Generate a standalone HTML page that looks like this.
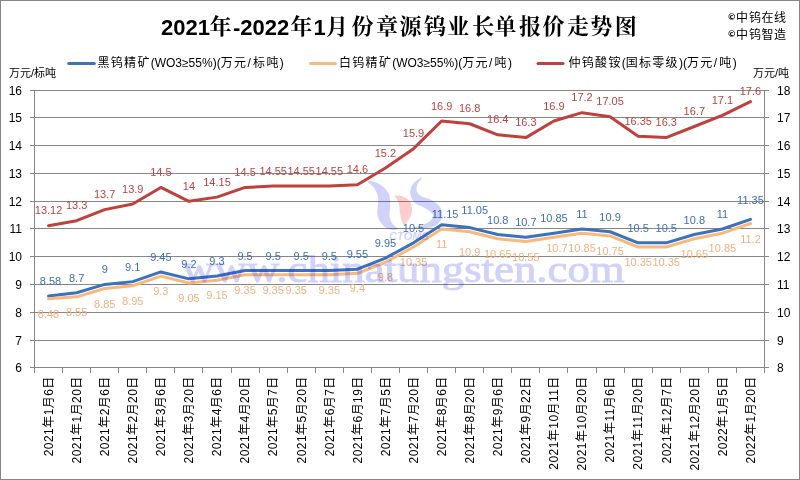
<!DOCTYPE html>
<html><head><meta charset="utf-8"><title>2021年-2022年1月份章源钨业长单报价走势图</title><style>
html,body{margin:0;padding:0;background:#fff;overflow:hidden;}
svg{display:block;}
text{font-family:"Liberation Sans","Noto Sans CJK SC",sans-serif;}
.t{font-family:"Liberation Sans","Noto Serif CJK SC",serif;font-weight:bold;}
.wm{font-family:"Liberation Serif",serif;}
.wm2{font-family:"Liberation Sans",sans-serif;font-weight:bold;font-style:italic;}
.cp{font-family:"DejaVu Sans",sans-serif;font-weight:bold;}
.c{font-family:"Noto Serif CJK SC",serif;font-weight:bold;font-size:22px;}
</style></head><body>
<svg width="800" height="480" viewBox="0 0 800 480">
<rect x="0" y="0" width="800" height="480" fill="#fff"/>
<rect x="0.5" y="0.5" width="799" height="479" fill="none" stroke="#868686" stroke-width="1"/>
<line x1="30" y1="90.5" x2="769" y2="90.5" stroke="#868686" stroke-width="1"/>
<line x1="30" y1="117.5" x2="769" y2="117.5" stroke="#868686" stroke-width="1"/>
<line x1="30" y1="145.5" x2="769" y2="145.5" stroke="#868686" stroke-width="1"/>
<line x1="30" y1="173.5" x2="769" y2="173.5" stroke="#868686" stroke-width="1"/>
<line x1="30" y1="201.5" x2="769" y2="201.5" stroke="#868686" stroke-width="1"/>
<line x1="30" y1="228.5" x2="769" y2="228.5" stroke="#868686" stroke-width="1"/>
<line x1="30" y1="256.5" x2="769" y2="256.5" stroke="#868686" stroke-width="1"/>
<line x1="30" y1="284.5" x2="769" y2="284.5" stroke="#868686" stroke-width="1"/>
<line x1="30" y1="312.5" x2="769" y2="312.5" stroke="#868686" stroke-width="1"/>
<line x1="30" y1="340.5" x2="769" y2="340.5" stroke="#868686" stroke-width="1"/>
<line x1="30" y1="367.5" x2="769" y2="367.5" stroke="#868686" stroke-width="1"/>
<line x1="34.5" y1="90" x2="34.5" y2="373" stroke="#868686" stroke-width="1"/>
<line x1="764.5" y1="90" x2="764.5" y2="373" stroke="#868686" stroke-width="1"/>
<line x1="62.5" y1="368" x2="62.5" y2="373" stroke="#868686" stroke-width="1"/>
<line x1="90.5" y1="368" x2="90.5" y2="373" stroke="#868686" stroke-width="1"/>
<line x1="118.5" y1="368" x2="118.5" y2="373" stroke="#868686" stroke-width="1"/>
<line x1="146.5" y1="368" x2="146.5" y2="373" stroke="#868686" stroke-width="1"/>
<line x1="174.5" y1="368" x2="174.5" y2="373" stroke="#868686" stroke-width="1"/>
<line x1="202.5" y1="368" x2="202.5" y2="373" stroke="#868686" stroke-width="1"/>
<line x1="231.5" y1="368" x2="231.5" y2="373" stroke="#868686" stroke-width="1"/>
<line x1="259.5" y1="368" x2="259.5" y2="373" stroke="#868686" stroke-width="1"/>
<line x1="287.5" y1="368" x2="287.5" y2="373" stroke="#868686" stroke-width="1"/>
<line x1="315.5" y1="368" x2="315.5" y2="373" stroke="#868686" stroke-width="1"/>
<line x1="343.5" y1="368" x2="343.5" y2="373" stroke="#868686" stroke-width="1"/>
<line x1="371.5" y1="368" x2="371.5" y2="373" stroke="#868686" stroke-width="1"/>
<line x1="399.5" y1="368" x2="399.5" y2="373" stroke="#868686" stroke-width="1"/>
<line x1="427.5" y1="368" x2="427.5" y2="373" stroke="#868686" stroke-width="1"/>
<line x1="455.5" y1="368" x2="455.5" y2="373" stroke="#868686" stroke-width="1"/>
<line x1="483.5" y1="368" x2="483.5" y2="373" stroke="#868686" stroke-width="1"/>
<line x1="511.5" y1="368" x2="511.5" y2="373" stroke="#868686" stroke-width="1"/>
<line x1="539.5" y1="368" x2="539.5" y2="373" stroke="#868686" stroke-width="1"/>
<line x1="567.5" y1="368" x2="567.5" y2="373" stroke="#868686" stroke-width="1"/>
<line x1="596.5" y1="368" x2="596.5" y2="373" stroke="#868686" stroke-width="1"/>
<line x1="624.5" y1="368" x2="624.5" y2="373" stroke="#868686" stroke-width="1"/>
<line x1="652.5" y1="368" x2="652.5" y2="373" stroke="#868686" stroke-width="1"/>
<line x1="680.5" y1="368" x2="680.5" y2="373" stroke="#868686" stroke-width="1"/>
<line x1="708.5" y1="368" x2="708.5" y2="373" stroke="#868686" stroke-width="1"/>
<line x1="736.5" y1="368" x2="736.5" y2="373" stroke="#868686" stroke-width="1"/>
<text x="22" y="94.8" font-size="12" text-anchor="end" fill="#000">16</text>
<text x="777" y="94.8" font-size="12" text-anchor="start" fill="#000">18</text>
<text x="22" y="121.8" font-size="12" text-anchor="end" fill="#000">15</text>
<text x="777" y="121.8" font-size="12" text-anchor="start" fill="#000">17</text>
<text x="22" y="149.8" font-size="12" text-anchor="end" fill="#000">14</text>
<text x="777" y="149.8" font-size="12" text-anchor="start" fill="#000">16</text>
<text x="22" y="177.8" font-size="12" text-anchor="end" fill="#000">13</text>
<text x="777" y="177.8" font-size="12" text-anchor="start" fill="#000">15</text>
<text x="22" y="205.8" font-size="12" text-anchor="end" fill="#000">12</text>
<text x="777" y="205.8" font-size="12" text-anchor="start" fill="#000">14</text>
<text x="22" y="232.8" font-size="12" text-anchor="end" fill="#000">11</text>
<text x="777" y="232.8" font-size="12" text-anchor="start" fill="#000">13</text>
<text x="22" y="260.8" font-size="12" text-anchor="end" fill="#000">10</text>
<text x="777" y="260.8" font-size="12" text-anchor="start" fill="#000">12</text>
<text x="22" y="288.8" font-size="12" text-anchor="end" fill="#000">9</text>
<text x="777" y="288.8" font-size="12" text-anchor="start" fill="#000">11</text>
<text x="22" y="316.8" font-size="12" text-anchor="end" fill="#000">8</text>
<text x="777" y="316.8" font-size="12" text-anchor="start" fill="#000">10</text>
<text x="22" y="344.8" font-size="12" text-anchor="end" fill="#000">7</text>
<text x="777" y="344.8" font-size="12" text-anchor="start" fill="#000">9</text>
<text x="22" y="371.8" font-size="12" text-anchor="end" fill="#000">6</text>
<text x="777" y="371.8" font-size="12" text-anchor="start" fill="#000">8</text>
<text x="9" y="77" font-size="11" fill="#000">万元/标吨</text>
<text x="753" y="77" font-size="11" fill="#000">万元/吨</text>
<text transform="translate(48.54,376.2) rotate(-90)" x="0" y="4.3" font-size="12" letter-spacing="0.45" text-anchor="end" fill="#000">2021年1月6日</text>
<text transform="translate(76.62,376.2) rotate(-90)" x="0" y="4.3" font-size="12" letter-spacing="0.45" text-anchor="end" fill="#000">2021年1月20日</text>
<text transform="translate(104.69,376.2) rotate(-90)" x="0" y="4.3" font-size="12" letter-spacing="0.45" text-anchor="end" fill="#000">2021年2月6日</text>
<text transform="translate(132.77,376.2) rotate(-90)" x="0" y="4.3" font-size="12" letter-spacing="0.45" text-anchor="end" fill="#000">2021年2月20日</text>
<text transform="translate(160.85,376.2) rotate(-90)" x="0" y="4.3" font-size="12" letter-spacing="0.45" text-anchor="end" fill="#000">2021年3月6日</text>
<text transform="translate(188.92,376.2) rotate(-90)" x="0" y="4.3" font-size="12" letter-spacing="0.45" text-anchor="end" fill="#000">2021年3月20日</text>
<text transform="translate(217.00,376.2) rotate(-90)" x="0" y="4.3" font-size="12" letter-spacing="0.45" text-anchor="end" fill="#000">2021年4月6日</text>
<text transform="translate(245.08,376.2) rotate(-90)" x="0" y="4.3" font-size="12" letter-spacing="0.45" text-anchor="end" fill="#000">2021年4月20日</text>
<text transform="translate(273.15,376.2) rotate(-90)" x="0" y="4.3" font-size="12" letter-spacing="0.45" text-anchor="end" fill="#000">2021年5月7日</text>
<text transform="translate(301.23,376.2) rotate(-90)" x="0" y="4.3" font-size="12" letter-spacing="0.45" text-anchor="end" fill="#000">2021年5月20日</text>
<text transform="translate(329.31,376.2) rotate(-90)" x="0" y="4.3" font-size="12" letter-spacing="0.45" text-anchor="end" fill="#000">2021年6月7日</text>
<text transform="translate(357.38,376.2) rotate(-90)" x="0" y="4.3" font-size="12" letter-spacing="0.45" text-anchor="end" fill="#000">2021年6月19日</text>
<text transform="translate(385.46,376.2) rotate(-90)" x="0" y="4.3" font-size="12" letter-spacing="0.45" text-anchor="end" fill="#000">2021年7月5日</text>
<text transform="translate(413.54,376.2) rotate(-90)" x="0" y="4.3" font-size="12" letter-spacing="0.45" text-anchor="end" fill="#000">2021年7月20日</text>
<text transform="translate(441.62,376.2) rotate(-90)" x="0" y="4.3" font-size="12" letter-spacing="0.45" text-anchor="end" fill="#000">2021年8月6日</text>
<text transform="translate(469.69,376.2) rotate(-90)" x="0" y="4.3" font-size="12" letter-spacing="0.45" text-anchor="end" fill="#000">2021年8月20日</text>
<text transform="translate(497.77,376.2) rotate(-90)" x="0" y="4.3" font-size="12" letter-spacing="0.45" text-anchor="end" fill="#000">2021年9月6日</text>
<text transform="translate(525.85,376.2) rotate(-90)" x="0" y="4.3" font-size="12" letter-spacing="0.45" text-anchor="end" fill="#000">2021年9月22日</text>
<text transform="translate(553.92,376.2) rotate(-90)" x="0" y="4.3" font-size="12" letter-spacing="0.45" text-anchor="end" fill="#000">2021年10月11日</text>
<text transform="translate(582.00,376.2) rotate(-90)" x="0" y="4.3" font-size="12" letter-spacing="0.45" text-anchor="end" fill="#000">2021年10月20日</text>
<text transform="translate(610.08,376.2) rotate(-90)" x="0" y="4.3" font-size="12" letter-spacing="0.45" text-anchor="end" fill="#000">2021年11月6日</text>
<text transform="translate(638.15,376.2) rotate(-90)" x="0" y="4.3" font-size="12" letter-spacing="0.45" text-anchor="end" fill="#000">2021年11月20日</text>
<text transform="translate(666.23,376.2) rotate(-90)" x="0" y="4.3" font-size="12" letter-spacing="0.45" text-anchor="end" fill="#000">2021年12月7日</text>
<text transform="translate(694.31,376.2) rotate(-90)" x="0" y="4.3" font-size="12" letter-spacing="0.45" text-anchor="end" fill="#000">2021年12月20日</text>
<text transform="translate(722.38,376.2) rotate(-90)" x="0" y="4.3" font-size="12" letter-spacing="0.45" text-anchor="end" fill="#000">2022年1月5日</text>
<text transform="translate(750.46,376.2) rotate(-90)" x="0" y="4.3" font-size="12" letter-spacing="0.45" text-anchor="end" fill="#000">2022年1月20日</text>
<polyline points="48.54,296.03 76.62,292.71 104.69,284.40 132.77,281.63 160.85,271.94 188.92,278.86 217.00,276.09 245.08,270.55 273.15,270.55 301.23,270.55 329.31,270.55 357.38,269.16 385.46,258.09 413.54,242.85 441.62,224.84 469.69,227.61 497.77,234.54 525.85,237.31 553.92,233.16 582.00,229.00 610.08,231.77 638.15,242.85 666.23,242.85 694.31,234.54 722.38,229.00 750.46,219.31" fill="none" stroke="#3B72BE" stroke-width="3" stroke-linejoin="round" stroke-linecap="round"/>
<polyline points="48.54,298.80 76.62,296.87 104.69,288.56 132.77,285.79 160.85,276.09 188.92,283.01 217.00,280.25 245.08,274.71 273.15,274.71 301.23,274.71 329.31,274.71 357.38,273.32 385.46,262.24 413.54,247.00 441.62,229.00 469.69,231.77 497.77,238.69 525.85,241.46 553.92,237.31 582.00,233.16 610.08,235.93 638.15,247.00 666.23,247.00 694.31,238.69 722.38,233.16 750.46,223.46" fill="none" stroke="#F7B97E" stroke-width="3" stroke-linejoin="round" stroke-linecap="round"/>
<polyline points="48.54,225.68 76.62,220.69 104.69,209.61 132.77,204.07 160.85,187.45 188.92,201.30 217.00,197.14 245.08,187.45 273.15,186.06 301.23,186.06 329.31,186.06 357.38,184.68 385.46,168.06 413.54,148.67 441.62,120.97 469.69,123.74 497.77,134.82 525.85,137.59 553.92,120.97 582.00,112.66 610.08,116.81 638.15,136.20 666.23,137.59 694.31,126.51 722.38,115.43 750.46,101.58" fill="none" stroke="#C0403B" stroke-width="3" stroke-linejoin="round" stroke-linecap="round"/>
<text x="50.54" y="285.0" font-size="11" text-anchor="middle" fill="#3F6FB3">8.58</text>
<text x="76.62" y="281.7" font-size="11" text-anchor="middle" fill="#3F6FB3">8.7</text>
<text x="104.69" y="273.4" font-size="11" text-anchor="middle" fill="#3F6FB3">9</text>
<text x="132.77" y="270.6" font-size="11" text-anchor="middle" fill="#3F6FB3">9.1</text>
<text x="160.85" y="260.9" font-size="11" text-anchor="middle" fill="#3F6FB3">9.45</text>
<text x="188.92" y="267.9" font-size="11" text-anchor="middle" fill="#3F6FB3">9.2</text>
<text x="217.00" y="265.1" font-size="11" text-anchor="middle" fill="#3F6FB3">9.3</text>
<text x="245.08" y="259.6" font-size="11" text-anchor="middle" fill="#3F6FB3">9.5</text>
<text x="273.15" y="259.6" font-size="11" text-anchor="middle" fill="#3F6FB3">9.5</text>
<text x="301.23" y="259.6" font-size="11" text-anchor="middle" fill="#3F6FB3">9.5</text>
<text x="329.31" y="259.6" font-size="11" text-anchor="middle" fill="#3F6FB3">9.5</text>
<text x="357.38" y="258.2" font-size="11" text-anchor="middle" fill="#3F6FB3">9.55</text>
<text x="385.46" y="247.1" font-size="11" text-anchor="middle" fill="#3F6FB3">9.95</text>
<text x="413.54" y="231.9" font-size="11" text-anchor="middle" fill="#3F6FB3">10.5</text>
<text x="445.12" y="217.8" font-size="11" text-anchor="middle" fill="#3F6FB3">11.15</text>
<text x="474.69" y="213.6" font-size="11" text-anchor="middle" fill="#3F6FB3">11.05</text>
<text x="497.77" y="223.5" font-size="11" text-anchor="middle" fill="#3F6FB3">10.8</text>
<text x="525.85" y="226.3" font-size="11" text-anchor="middle" fill="#3F6FB3">10.7</text>
<text x="553.92" y="222.2" font-size="11" text-anchor="middle" fill="#3F6FB3">10.85</text>
<text x="582.00" y="218.0" font-size="11" text-anchor="middle" fill="#3F6FB3">11</text>
<text x="610.08" y="220.8" font-size="11" text-anchor="middle" fill="#3F6FB3">10.9</text>
<text x="638.15" y="231.9" font-size="11" text-anchor="middle" fill="#3F6FB3">10.5</text>
<text x="666.23" y="231.9" font-size="11" text-anchor="middle" fill="#3F6FB3">10.5</text>
<text x="694.31" y="223.5" font-size="11" text-anchor="middle" fill="#3F6FB3">10.8</text>
<text x="722.38" y="218.0" font-size="11" text-anchor="middle" fill="#3F6FB3">11</text>
<text x="750.46" y="204.3" font-size="11" text-anchor="middle" fill="#3F6FB3">11.35</text>
<text x="48.54" y="317.8" font-size="11" text-anchor="middle" fill="#F0B07F">8.48</text>
<text x="76.62" y="315.9" font-size="11" text-anchor="middle" fill="#F0B07F">8.55</text>
<text x="104.69" y="307.6" font-size="11" text-anchor="middle" fill="#F0B07F">8.85</text>
<text x="132.77" y="304.8" font-size="11" text-anchor="middle" fill="#F0B07F">8.95</text>
<text x="160.85" y="295.1" font-size="11" text-anchor="middle" fill="#F0B07F">9.3</text>
<text x="188.92" y="302.0" font-size="11" text-anchor="middle" fill="#F0B07F">9.05</text>
<text x="217.00" y="299.2" font-size="11" text-anchor="middle" fill="#F0B07F">9.15</text>
<text x="245.08" y="293.7" font-size="11" text-anchor="middle" fill="#F0B07F">9.35</text>
<text x="273.15" y="293.7" font-size="11" text-anchor="middle" fill="#F0B07F">9.35</text>
<text x="296.23" y="293.7" font-size="11" text-anchor="middle" fill="#F0B07F">9.35</text>
<text x="329.31" y="293.7" font-size="11" text-anchor="middle" fill="#F0B07F">9.35</text>
<text x="357.38" y="292.3" font-size="11" text-anchor="middle" fill="#F0B07F">9.4</text>
<text x="385.46" y="281.2" font-size="11" text-anchor="middle" fill="#F0B07F">9.8</text>
<text x="413.54" y="266.0" font-size="11" text-anchor="middle" fill="#F0B07F">10.35</text>
<text x="441.62" y="248.0" font-size="11" text-anchor="middle" fill="#F0B07F">11</text>
<text x="469.69" y="256.4" font-size="11" text-anchor="middle" fill="#F0B07F">10.9</text>
<text x="497.77" y="257.7" font-size="11" text-anchor="middle" fill="#F0B07F">10.65</text>
<text x="525.85" y="260.5" font-size="11" text-anchor="middle" fill="#F0B07F">10.55</text>
<text x="556.92" y="252.3" font-size="11" text-anchor="middle" fill="#F0B07F">10.7</text>
<text x="582.00" y="252.2" font-size="11" text-anchor="middle" fill="#F0B07F">10.85</text>
<text x="610.08" y="254.9" font-size="11" text-anchor="middle" fill="#F0B07F">10.75</text>
<text x="638.15" y="266.0" font-size="11" text-anchor="middle" fill="#F0B07F">10.35</text>
<text x="666.23" y="266.0" font-size="11" text-anchor="middle" fill="#F0B07F">10.35</text>
<text x="694.31" y="257.7" font-size="11" text-anchor="middle" fill="#F0B07F">10.65</text>
<text x="722.38" y="252.2" font-size="11" text-anchor="middle" fill="#F0B07F">10.85</text>
<text x="750.46" y="242.5" font-size="11" text-anchor="middle" fill="#F0B07F">11.2</text>
<text x="48.54" y="214.2" font-size="11" text-anchor="middle" fill="#B84440">13.12</text>
<text x="76.62" y="209.2" font-size="11" text-anchor="middle" fill="#B84440">13.3</text>
<text x="104.69" y="198.1" font-size="11" text-anchor="middle" fill="#B84440">13.7</text>
<text x="132.77" y="192.6" font-size="11" text-anchor="middle" fill="#B84440">13.9</text>
<text x="160.85" y="176.0" font-size="11" text-anchor="middle" fill="#B84440">14.5</text>
<text x="188.92" y="189.8" font-size="11" text-anchor="middle" fill="#B84440">14</text>
<text x="217.00" y="185.6" font-size="11" text-anchor="middle" fill="#B84440">14.15</text>
<text x="245.08" y="176.0" font-size="11" text-anchor="middle" fill="#B84440">14.5</text>
<text x="273.15" y="174.6" font-size="11" text-anchor="middle" fill="#B84440">14.55</text>
<text x="301.23" y="174.6" font-size="11" text-anchor="middle" fill="#B84440">14.55</text>
<text x="329.31" y="174.6" font-size="11" text-anchor="middle" fill="#B84440">14.55</text>
<text x="357.38" y="173.2" font-size="11" text-anchor="middle" fill="#B84440">14.6</text>
<text x="385.46" y="156.6" font-size="11" text-anchor="middle" fill="#B84440">15.2</text>
<text x="413.54" y="137.2" font-size="11" text-anchor="middle" fill="#B84440">15.9</text>
<text x="441.62" y="109.5" font-size="11" text-anchor="middle" fill="#B84440">16.9</text>
<text x="469.69" y="112.2" font-size="11" text-anchor="middle" fill="#B84440">16.8</text>
<text x="497.77" y="123.3" font-size="11" text-anchor="middle" fill="#B84440">16.4</text>
<text x="525.85" y="126.1" font-size="11" text-anchor="middle" fill="#B84440">16.3</text>
<text x="553.92" y="109.5" font-size="11" text-anchor="middle" fill="#B84440">16.9</text>
<text x="582.00" y="101.2" font-size="11" text-anchor="middle" fill="#B84440">17.2</text>
<text x="610.08" y="105.3" font-size="11" text-anchor="middle" fill="#B84440">17.05</text>
<text x="638.15" y="124.7" font-size="11" text-anchor="middle" fill="#B84440">16.35</text>
<text x="666.23" y="126.1" font-size="11" text-anchor="middle" fill="#B84440">16.3</text>
<text x="694.31" y="115.0" font-size="11" text-anchor="middle" fill="#B84440">16.7</text>
<text x="722.38" y="103.9" font-size="11" text-anchor="middle" fill="#B84440">17.1</text>
<text x="750.46" y="94.6" font-size="11" text-anchor="middle" fill="#B84440">17.6</text>
<text class="t" x="161" y="35" font-size="22">2021</text>
<text class="t" x="233" y="35" font-size="22">-2022</text>
<text class="t" x="313.6" y="35" font-size="22">1</text>
<text class="c" x="209.5" y="33.7">年</text>
<text class="c" x="290.2" y="33.7">年</text>
<text class="c" x="326.0 351.5 376.0 399.4 423.9 447.3 472.2 494.5 519.0 542.4 566.9 590.3 614.8" y="33.7">月份章源钨业长单报价走势图</text>
<line x1="68.7" y1="63.4" x2="94.3" y2="63.4" stroke="#3B72BE" stroke-width="3" stroke-linecap="round"/>
<text x="97.5" y="67" fill="#000"><tspan font-size="12" letter-spacing="1.3">黑钨精矿</tspan><tspan font-size="12" letter-spacing="0">(WO3≥55%)(</tspan><tspan font-size="12" letter-spacing="1.3">万元</tspan><tspan font-size="12" dx="0.3" letter-spacing="2.2">/</tspan><tspan font-size="12" letter-spacing="1.3">标吨</tspan><tspan font-size="12" letter-spacing="0">)</tspan></text>
<line x1="310.5" y1="63.4" x2="335.5" y2="63.4" stroke="#F7B97E" stroke-width="3" stroke-linecap="round"/>
<text x="339" y="67" fill="#000"><tspan font-size="12" letter-spacing="1.3">白钨精矿</tspan><tspan font-size="12" letter-spacing="0">(WO3≥55%)(</tspan><tspan font-size="12" letter-spacing="1.3">万元</tspan><tspan font-size="12" dx="0.3" letter-spacing="2.2">/</tspan><tspan font-size="12" letter-spacing="1.3">吨</tspan><tspan font-size="12" letter-spacing="0">)</tspan></text>
<line x1="538" y1="63.4" x2="563" y2="63.4" stroke="#C0403B" stroke-width="3" stroke-linecap="round"/>
<text x="568.5" y="67" fill="#000"><tspan font-size="12" letter-spacing="1.3">仲钨酸铵</tspan><tspan font-size="12" letter-spacing="0">(</tspan><tspan font-size="12" letter-spacing="1.3">国标零级</tspan><tspan font-size="12" letter-spacing="0">)(</tspan><tspan font-size="12" letter-spacing="1.3">万元</tspan><tspan font-size="12" dx="0.3" letter-spacing="2.2">/</tspan><tspan font-size="12" letter-spacing="1.3">吨</tspan><tspan font-size="12" letter-spacing="0">)</tspan></text>
<text class="cp" x="727.3" y="19.8" font-size="9" fill="#111">©</text>
<text x="735.9 749.0 761.5 774.0" y="21.8" font-size="12" fill="#000">中钨在线</text>
<text class="cp" x="727.3" y="37.3" font-size="9" fill="#111">©</text>
<text x="735.9 749.0 761.5 774.0" y="39.3" font-size="12" fill="#000">中钨智造</text>
<g opacity="0.2">
<path d="M367.4,181.2 L368.2,182.3 L369.5,183.5 L371.0,184.8 L372.5,186.3 L373.8,187.7 L374.7,189.1 L375.5,190.5 L376.3,192.0 L377.0,193.6 L377.6,195.2 L378.0,196.7 L378.1,197.9 L378.2,198.8 L378.2,199.8 L378.2,201.0 L378.1,202.5 L377.9,204.1 L377.8,205.8 L377.7,207.1 L377.6,208.4 L377.5,209.9 L377.3,211.7 L377.3,213.8 L377.6,216.0 L378.3,217.9 L379.1,219.7 L380.0,221.4 L381.1,223.0 L382.2,224.4 L383.4,225.8 L384.9,226.9 L386.4,227.8 L387.9,228.5 L389.3,229.1 L390.6,229.4 L391.9,229.7 L393.2,229.9 L394.5,230.0 L395.6,229.9 L396.5,229.7 L397.3,229.5 L397.9,229.3 L398.1,228.3 L397.6,227.9 L396.9,227.4 L396.2,227.0 L395.4,226.4 L394.7,225.9 L394.1,225.3 L393.4,224.5 L392.6,223.7 L391.9,222.8 L391.3,221.9 L390.8,221.1 L390.6,220.2 L390.2,219.3 L389.9,218.3 L389.6,217.2 L389.5,216.0 L389.4,214.9 L389.4,214.0 L389.4,213.4 L389.5,212.5 L389.6,211.3 L389.9,209.8 L390.1,208.0 L390.2,206.2 L390.2,204.6 L390.2,203.0 L390.2,201.1 L390.0,198.9 L389.7,196.5 L388.9,194.1 L387.6,192.0 L386.2,190.1 L384.6,188.3 L382.9,186.7 L381.2,185.2 L379.3,183.9 L377.2,182.9 L374.9,182.1 L372.7,181.5 L370.7,181.1 L368.9,180.8 L367.6,180.8Z" fill="#1a22e6"/>
<path d="M421.8,177.6 L420.9,178.0 L419.6,178.7 L418.1,179.5 L416.6,180.6 L415.1,181.7 L413.8,182.9 L412.8,184.3 L411.9,185.7 L411.2,187.2 L410.6,188.9 L410.2,190.7 L410.0,192.5 L410.3,194.4 L410.8,196.2 L411.6,198.0 L412.5,199.8 L413.7,201.4 L415.2,203.0 L417.1,204.4 L419.2,205.5 L421.1,206.3 L422.9,207.0 L424.4,207.7 L425.6,208.4 L426.9,209.2 L428.3,210.1 L429.6,210.9 L430.7,211.7 L431.5,212.4 L432.0,213.0 L432.3,213.4 L432.6,213.9 L432.9,214.4 L433.0,215.0 L433.1,215.5 L433.1,216.0 L433.1,216.4 L433.0,217.1 L432.7,217.8 L432.3,218.6 L431.7,219.4 L431.0,220.1 L430.2,220.9 L429.2,221.7 L427.9,222.4 L426.5,223.2 L425.0,223.9 L423.5,224.6 L421.9,225.2 L420.1,225.7 L418.3,226.2 L416.5,226.7 L415.0,227.1 L413.9,227.5 L414.1,228.5 L415.2,228.6 L416.7,228.7 L418.6,228.7 L420.6,228.7 L422.6,228.6 L424.5,228.4 L426.2,228.2 L428.0,228.0 L429.8,227.6 L431.6,227.2 L433.3,226.6 L435.0,225.9 L436.5,224.9 L437.8,223.9 L439.1,222.6 L440.2,221.3 L441.2,219.7 L441.9,218.0 L442.2,216.2 L442.3,214.4 L442.2,212.6 L441.8,210.7 L441.1,208.8 L440.0,207.0 L438.6,205.4 L437.1,204.0 L435.4,202.8 L433.8,201.7 L432.1,200.6 L430.4,199.6 L428.4,198.7 L426.3,198.0 L424.4,197.4 L422.8,196.9 L421.6,196.4 L420.8,196.0 L420.0,195.4 L419.2,194.7 L418.4,193.9 L417.8,193.1 L417.3,192.2 L417.0,191.5 L416.7,190.7 L416.5,189.7 L416.5,188.6 L416.6,187.4 L416.9,186.2 L417.2,185.1 L417.7,183.9 L418.6,182.6 L419.6,181.3 L420.7,180.0 L421.6,178.9 L422.2,178.0Z" fill="#1a22e6"/>
<text class="wm2" x="389" y="240" font-size="11" textLength="40" lengthAdjust="spacingAndGlyphs" fill="#1a22e6">CTOMS</text>
<text class="wm" x="182.2" y="282" font-size="38.5" textLength="442.5" lengthAdjust="spacingAndGlyphs" fill="#1a22e6" stroke="#1a22e6" stroke-width="1">www.chinatungsten.com</text>
</g>
<path d="M393.8,195.3 L394.8,195.4 L396.3,195.5 L398.0,195.6 L399.8,195.8 L401.5,196.1 L403.0,196.5 L404.3,197.0 L405.5,197.7 L406.7,198.4 L407.7,199.2 L408.7,200.1 L409.5,201.0 L410.2,202.0 L410.8,203.1 L411.2,204.3 L411.6,205.5 L411.8,206.8 L412.0,208.0 L412.1,209.2 L412.0,210.5 L411.9,211.8 L411.6,213.1 L411.4,214.4 L411.0,215.5 L410.6,216.6 L410.0,217.5 L409.4,218.5 L408.7,219.4 L408.1,220.2 L407.5,221.0 L406.9,221.8 L406.4,222.7 L405.9,223.5 L405.3,224.2 L404.8,224.7 L404.3,224.8 L403.8,224.5 L403.3,223.9 L402.8,223.1 L402.3,222.1 L401.9,221.0 L401.5,220.0 L401.2,219.0 L400.9,217.8 L400.6,216.6 L400.4,215.4 L400.2,214.2 L400.0,213.0 L399.8,211.8 L399.7,210.6 L399.7,209.4 L399.6,208.3 L399.5,207.1 L399.3,206.0 L399.1,204.9 L398.9,203.9 L398.6,202.9 L398.3,201.9 L397.9,200.9 L397.5,200.0 L397.0,199.1 L396.3,198.2 L395.5,197.3 L394.8,196.5 L394.2,195.8 L393.8,195.3Z" fill="#ff1a1a" opacity="0.22"/>
</svg></body></html>
